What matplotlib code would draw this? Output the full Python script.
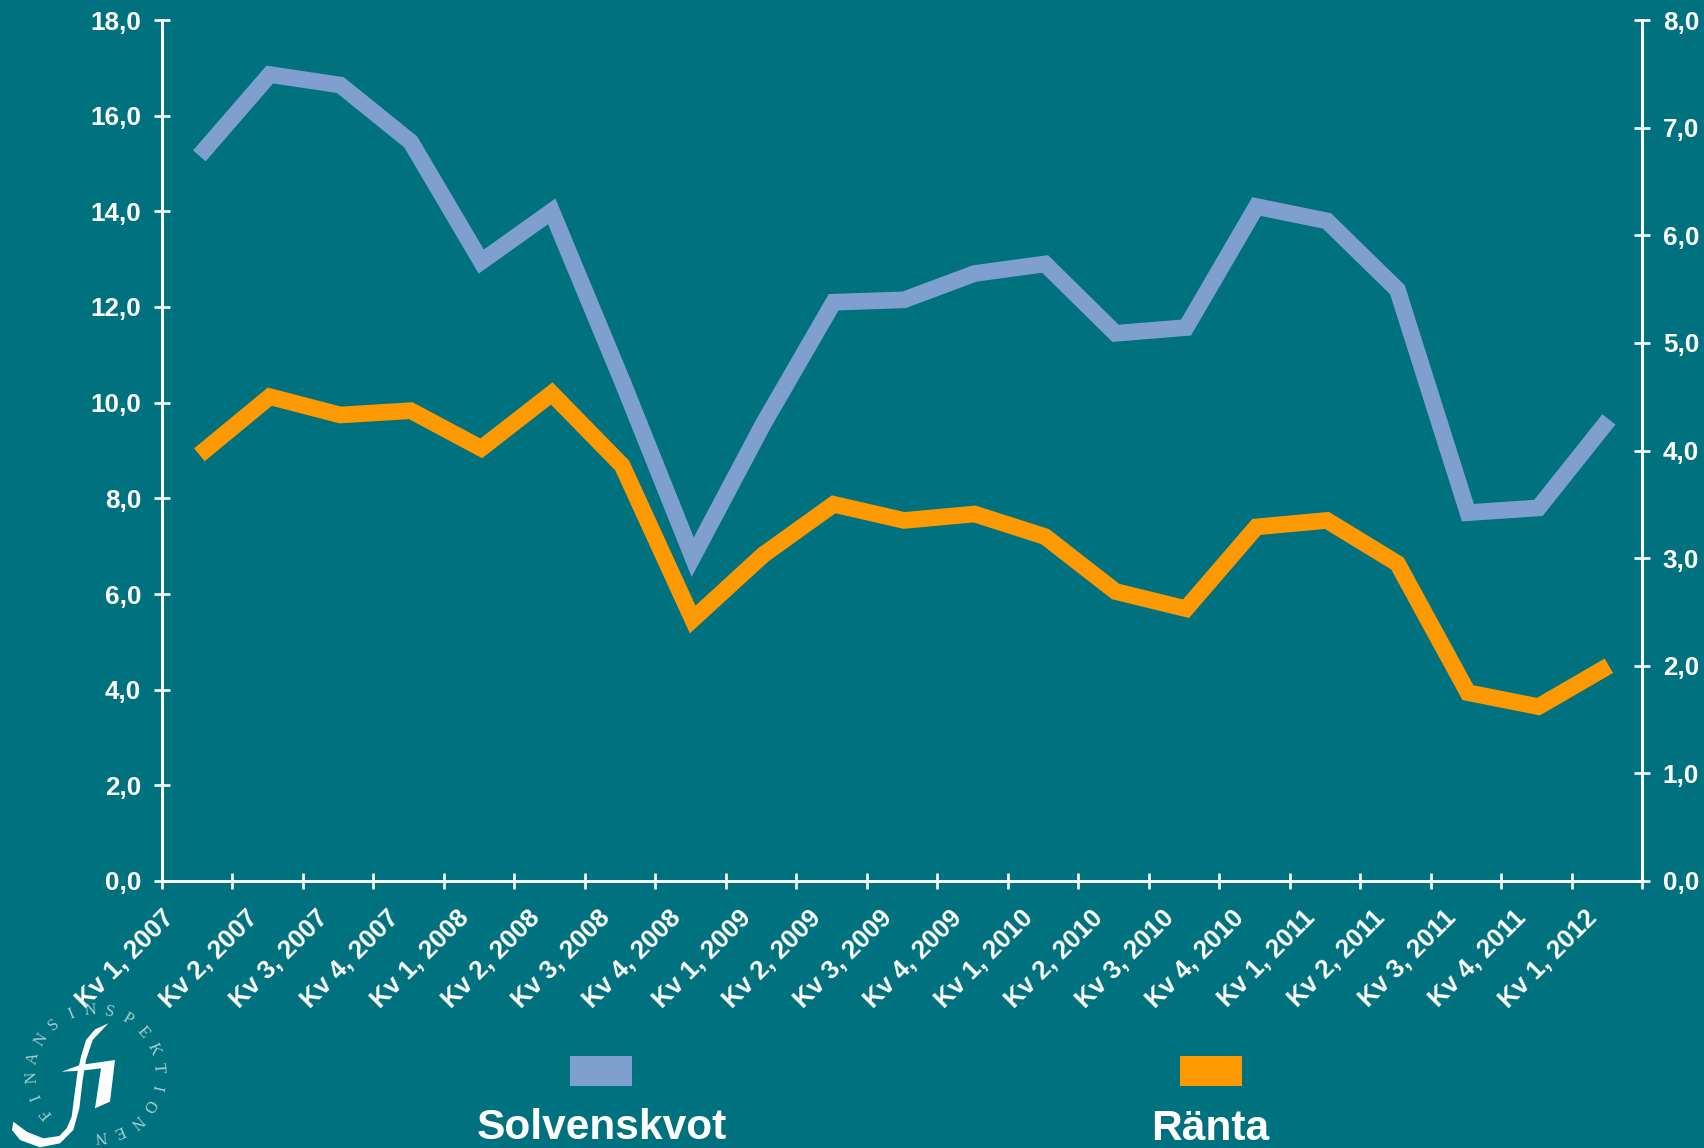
import numpy as np
import matplotlib
matplotlib.use("Agg")
import matplotlib.pyplot as plt
from matplotlib.patches import Polygon, Rectangle
from matplotlib.transforms import ScaledTranslation

plt.rcParams["font.family"] = ["Liberation Sans", "DejaVu Sans"]

# Data
quarters = ["Kv 1, 2007", "Kv 2, 2007", "Kv 3, 2007", "Kv 4, 2007",
            "Kv 1, 2008", "Kv 2, 2008", "Kv 3, 2008", "Kv 4, 2008",
            "Kv 1, 2009", "Kv 2, 2009", "Kv 3, 2009", "Kv 4, 2009",
            "Kv 1, 2010", "Kv 2, 2010", "Kv 3, 2010", "Kv 4, 2010",
            "Kv 1, 2011", "Kv 2, 2011", "Kv 3, 2011", "Kv 4, 2011",
            "Kv 1, 2012"]
solvenskvot = [15.16, 16.86, 16.64, 15.45, 12.95, 14.0, 10.45, 6.77, 9.55, 12.1, 12.15,
               12.7, 12.9, 11.45, 11.57, 14.1, 13.8, 12.36, 7.7, 7.8, 9.65]
ranta = [3.96, 4.50, 4.33, 4.37, 4.02, 4.53, 3.86, 2.43, 3.03, 3.50, 3.35,
         3.41, 3.2, 2.69, 2.53, 3.29, 3.35, 2.95, 1.75, 1.62, 2.0]
left_ticks = [0, 2, 4, 6, 8, 10, 12, 14, 16, 18]
right_ticks = [0, 1, 2, 3, 4, 5, 6, 7, 8]

BG = "#00717F"
BLUE = "#7F9FCF"
ORANGE = "#FF9900"
W, H = 1704, 1148

fig = plt.figure(figsize=(W / 100, H / 100), dpi=100, facecolor=BG)
ax = fig.add_axes([162 / W, 1 - 881 / H, (1642 - 162) / W, 861 / H])
ax.set_facecolor("none")
ax2 = ax.twinx()

x = np.arange(len(quarters)) + 0.53
ax.plot(x, solvenskvot, color=BLUE, lw=12, solid_joinstyle="miter", solid_capstyle="butt")
ax2.plot(x, ranta, color=ORANGE, lw=12, solid_joinstyle="miter", solid_capstyle="butt")

ax.set_xlim(0, len(quarters))
ax.set_ylim(0, 18)
ax2.set_ylim(0, 8)

ax.set_yticks(left_ticks)
ax.set_yticklabels([f"{v:.1f}".replace(".", ",") for v in left_ticks])
ax2.set_yticks(right_ticks)
ax2.set_yticklabels([f"{v:.1f}".replace(".", ",") for v in right_ticks])
ax.set_xticks(np.arange(len(quarters) + 1))
ax.set_xticklabels(quarters + [""], rotation=45, ha="right", rotation_mode="anchor")

for a in (ax, ax2):
    for side in a.spines:
        a.spines[side].set_color("white")
        a.spines[side].set_linewidth(1.9)
    a.spines["top"].set_visible(False)
    for lab in a.get_xticklabels() + a.get_yticklabels():
        lab.set_fontsize(18.7)
        lab.set_fontweight("bold")
        lab.set_color("white")

ax.tick_params(axis="y", direction="inout", length=12, width=1.9, color="white", pad=9)
ax2.tick_params(axis="y", direction="inout", length=12, width=1.9, color="white", pad=9)
ax.tick_params(axis="x", direction="inout", length=11, width=1.9, color="white", pad=12)

# first label sits right at its tick, the others are nudged to the right
shift = ScaledTranslation(13 / 100, 0, fig.dpi_scale_trans)
for lab in ax.get_xticklabels()[1:]:
    lab.set_transform(lab.get_transform() + shift)

# overlay in pixel coordinates for legend and logo
ov = fig.add_axes([0, 0, 1, 1])
ov.set_xlim(0, W)
ov.set_ylim(H, 0)
ov.axis("off")
ov.patch.set_alpha(0)

ov.add_patch(Rectangle((570, 1056), 62, 30, color=BLUE, lw=0))
ov.add_patch(Rectangle((1180, 1056), 62, 30, color=ORANGE, lw=0))
ov.text(602, 1139, "Solvenskvot", color="white", fontsize=30.6, fontweight="bold", ha="center", va="baseline")
ov.text(1210, 1140, "Ränta", color="white", fontsize=30.6, fontweight="bold", ha="center", va="baseline")

# logo: letters on a ring
letters = "FINANSINSPEKTIONEN"
cx, cy = 95, 1073
angles = np.radians(np.linspace(-130, 175, len(letters)))
for ch, ang in zip(letters, angles):
    px = cx + 63 * np.sin(ang)
    py = cy - 63 * np.cos(ang)
    ov.text(px, py, ch, color="#A9CDD2", fontsize=12, family="Liberation Serif",
            ha="center", va="center", rotation=-np.degrees(ang))


def logo_shape(pts):
    return Polygon([(px / 3, 860 + py / 3) for px, py in pts], closed=True, color="white", lw=0)


f_outline = [(325, 490), (285, 508), (258, 540), (243, 590), (232, 640), (224, 700), (215, 770),
             (200, 805), (178, 828), (130, 835), (80, 815), (40, 785), (36, 810), (60, 840),
             (120, 862), (180, 850), (220, 810), (238, 745), (248, 660), (258, 600), (278, 540)]
i_outline = [(185, 635), (240, 615), (345, 600), (330, 725), (285, 745), (303, 625), (245, 632)]
ov.add_patch(logo_shape(f_outline))
ov.add_patch(logo_shape(i_outline))

fig.savefig("out.png", dpi=100, facecolor=BG)
